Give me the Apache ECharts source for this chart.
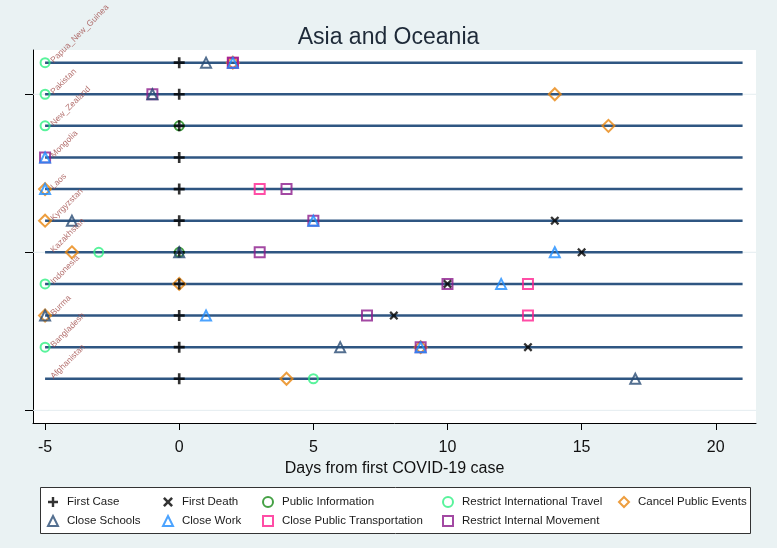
<!DOCTYPE html>
<html>
<head>
<meta charset="utf-8">
<script src="https://cdn.jsdelivr.net/npm/echarts@6/dist/echarts.min.js"></script>
<style>
html,body{margin:0;padding:0;background:#eaf2f3;}
#chart{width:777px;height:548px;}
</style>
</head>
<body>
<div id="chart"></div>
<script>
// Countries from bottom (y=1) to top (y=11)
const countries = ['Afghanistan','Bangladesh','Burma','Indonesia','Kazakhstan','Kyrgyzstan','Laos','Mongolia','New_Zealand','Pakistan','Papua_New_Guinea'];
const lineStart = -5;
const lineEnd = 21;
const xMin = -5.45, xMax = 21.5;
const xTicks = [-5, 0, 5, 10, 15, 20];
const yTicks = [0, 5, 10];

// Days from first case, per country (same order as countries); null = not shown
const firstCase      = [0, 0, 0, 0, 0, 0, 0, 0, 0, 0, 0];
const firstDeath     = [null, 13, 8, 10, 15, 14, null, null, null, null, null];
const publicInfo     = [null, null, null, null, 0, null, null, null, 0, null, null];
const restrictIntl   = [5, -5, null, -5, -3, null, null, null, -5, -5, -5];
const cancelEvents   = [4, 9, -5, 0, -4, -5, -5, null, 16, 14, 2];
const closeSchools   = [17, 6, -5, null, 0, -4, null, null, null, -1, 1];
const closeWork      = [null, 9, 1, 12, 14, 5, -5, -5, null, null, 2];
const closeTransport = [null, null, 13, 13, null, null, 3, null, null, null, 2];
const restrictMove   = [null, 9, 7, 10, 3, 5, 4, -5, null, -1, 2];

function pts(arr){
  const out = [];
  arr.forEach((v,i)=>{ if(v!==null && v!==undefined) out.push([v, i+1]); });
  return out;
}

const FONT = '"Liberation Sans", Arial, sans-serif';
const plusPath = 'path://M3.8,0H6.2V3.8H10V6.2H6.2V10H3.8V6.2H0V3.8H3.8Z';
const crossPath = 'path://M0,1.8L1.8,0L5,3.2L8.2,0L10,1.8L6.8,5L10,8.2L8.2,10L5,6.8L1.8,10L0,8.2L3.2,5Z';

function hollow(name, symbol, size, color, data){
  return {
    name: name, type: 'scatter', symbol: symbol, symbolSize: size,
    itemStyle: {color: 'rgba(255,255,255,0)', borderColor: color, borderWidth: 2},
    data: pts(data), z: 3
  };
}

function hline(name, color, width, data, z){
  return {
    type: 'custom', name: name, z: z, silent: true,
    data: data,
    renderItem: function(params, api){
      const p1 = api.coord([api.value(0), api.value(2)]);
      const p2 = api.coord([api.value(1), api.value(2)]);
      return {type:'line', shape:{x1:p1[0], y1:p1[1], x2:p2[0], y2:p2[1]},
        style:{stroke:color, lineWidth:width}};
    }
  };
}

const series = [
  hline('grid', '#e4edf0', 1, yTicks.map(v=>[xMin, xMax, v]), 1),
  hline('rows', '#2f5682', 2.5, countries.map((c,i)=>[lineStart, lineEnd, i+1]), 2),
  {
    type: 'scatter', name: 'labels', symbolSize: 0, silent: true, z: 4,
    data: countries.map((c,i)=>({value:[lineStart, i+1], name:c})),
    label: {
      show: true, position: 'right', distance: 8, rotate: 45,
      formatter: p=>p.name, color: '#a04c4a', fontSize: 8.5, fontFamily: FONT,
      align: 'left', verticalAlign: 'bottom', offset: [0, 3]
    }
  },
  hollow('Restrict International Travel', 'circle', 9, '#2ff083', restrictIntl),
  hollow('Cancel Public Events', 'diamond', 12, '#e8860f', cancelEvents),
  hollow('Public Information', 'circle', 9, '#168a16', publicInfo),
  hollow('Close Public Transportation', 'rect', 10, '#ff2090', closeTransport),
  hollow('Restrict Internal Movement', 'rect', 10, '#8c1b8c', restrictMove),
  {
    name: 'First Case', type: 'scatter', symbol: plusPath, symbolSize: 11,
    itemStyle: {color:'#000'}, data: pts(firstCase), z: 3
  },
  {
    name: 'First Death', type: 'scatter', symbol: crossPath, symbolSize: 9,
    itemStyle: {color:'#000'}, data: pts(firstDeath), z: 3
  },
  hollow('Close Schools', 'triangle', 10, '#284b74', closeSchools),
  hollow('Close Work', 'triangle', 10, '#1e8cff', closeWork)
];

const legendCols = [
  {left: 47,  items: ['First Case', 'Close Schools']},
  {left: 162, items: ['First Death', 'Close Work']},
  {left: 262, items: ['Public Information', 'Close Public Transportation']},
  {left: 442, items: ['Restrict International Travel', 'Restrict Internal Movement']},
  {left: 618, items: ['Cancel Public Events']}
];

const option = {
  backgroundColor: '#eaf2f3',
  animation: false,
  textStyle: {fontFamily: FONT},
  title: {
    text: 'Asia and Oceania', left: 'center', top: 21,
    textStyle: {fontSize: 23, fontWeight: 'normal', color: '#1e2a38', fontFamily: FONT}
  },
  grid: {
    left: 33, right: 21, top: 50, bottom: 125,
    show: true, backgroundColor: '#ffffff', borderWidth: 0
  },
  xAxis: {
    type: 'value', min: xMin, max: xMax,
    axisLine: {show: true, onZero: false, lineStyle: {color: '#000', width: 1}},
    axisTick: {show: true, length: 7, lineStyle: {color: '#000'}, customValues: xTicks},
    axisLabel: {customValues: xTicks, fontSize: 16, color: '#111', margin: 17, fontFamily: FONT},
    splitLine: {show: false},
    name: 'Days from first COVID-19 case', nameLocation: 'middle', nameGap: 35,
    nameTextStyle: {fontSize: 16, color: '#111', fontFamily: FONT}
  },
  yAxis: {
    type: 'value', min: -0.4, max: 11.4,
    axisLine: {show: true, onZero: false, lineStyle: {color: '#000', width: 1}},
    axisTick: {show: true, length: 8, lineStyle: {color: '#000'}, customValues: yTicks},
    axisLabel: {show: false},
    splitLine: {show: false}
  },
  legend: legendCols.map(c=>({
    orient: 'vertical', left: c.left, top: 496, padding: 0,
    itemWidth: 10, itemHeight: 10, itemGap: 7,
    data: c.items, selectedMode: false,
    textStyle: {fontSize: 11.5, color: '#1a1a1a', fontFamily: FONT, padding: [0,0,0,4]}
  })),
  graphic: [{
    type: 'rect', left: 40, top: 487, z: 0,
    shape: {width: 710, height: 46},
    style: {fill: '#ffffff', stroke: '#333', lineWidth: 1}
  }],
  series: series
};

const chart = echarts.init(document.getElementById('chart'), null, {renderer: 'canvas'});
chart.setOption(option);
</script>
</body>
</html>
